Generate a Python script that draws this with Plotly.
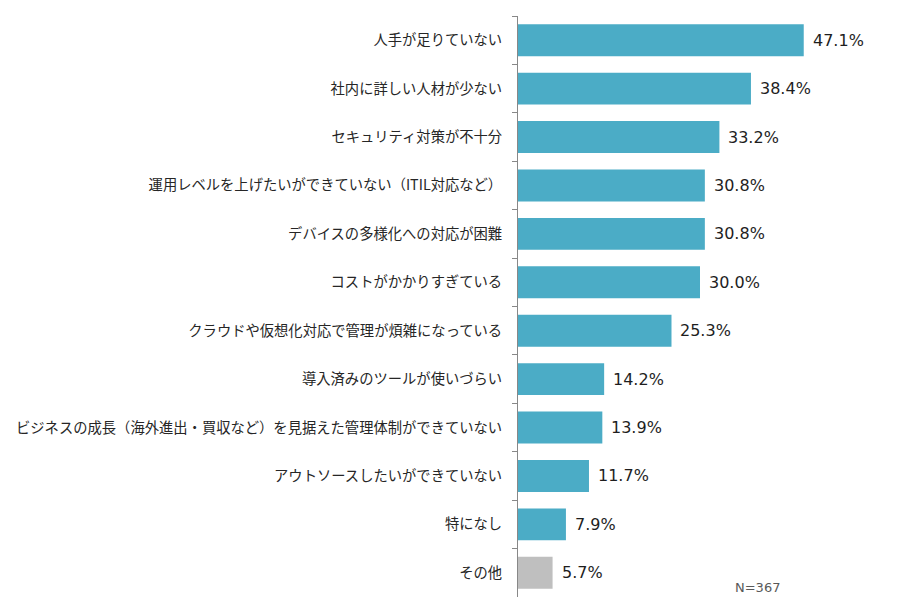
import plotly.graph_objects as go

categories = [
    "人手が足りていない",
    "社内に詳しい人材が少ない",
    "セキュリティ対策が不十分",
    "運用レベルを上げたいができていない（ITIL対応など）",
    "デバイスの多様化への対応が困難",
    "コストがかかりすぎている",
    "クラウドや仮想化対応で管理が煩雑になっている",
    "導入済みのツールが使いづらい",
    "ビジネスの成長（海外進出・買収など）を見据えた管理体制ができていない",
    "アウトソースしたいができていない",
    "特になし",
    "その他",
]
values = [47.1, 38.4, 33.2, 30.8, 30.8, 30.0, 25.3, 14.2, 13.9, 11.7, 7.9, 5.7]
bar_colors = ["#4BACC6"] * 11 + ["#BFBFBF"]
sample_note = "N=367"

jp_font = "Noto Sans CJK JP, sans-serif"
num_font = "DejaVu Sans, Verdana, sans-serif"

fig = go.Figure(go.Bar(
    x=values,
    y=categories,
    orientation="h",
    marker=dict(color=bar_colors, line=dict(width=0)),
    hoverinfo="x+y",
))

# value labels next to each bar
for cat, val in zip(categories, values):
    fig.add_annotation(x=val, y=cat, text=f"{val:.1f}%", showarrow=False,
                       xanchor="left", xshift=7,
                       font=dict(size=16, color="#1e1e1e", family=num_font))

fig.add_annotation(x=1, y=0, xref="paper", yref="paper", text=sample_note,
                   showarrow=False, xanchor="right", yanchor="bottom",
                   xshift=-100, yshift=0,
                   font=dict(size=13, color="#595959", family=num_font))

# page body has an 8px margin, so margins are offset by that
fig.update_layout(
    width=898,
    height=609,
    margin=dict(l=510, r=24, t=8, b=20),
    paper_bgcolor="white",
    plot_bgcolor="white",
    bargap=0.34,
    showlegend=False,
    font=dict(family=jp_font, color="#262626"),
    xaxis=dict(range=[0, 60], visible=False),
    yaxis=dict(
        autorange="reversed",
        showline=True, linecolor="#888888", linewidth=1,
        ticks="outside", tickson="boundaries", ticklen=5, tickcolor="#888888",
        ticklabelstandoff=12,
        tickfont=dict(size=14.3, color="#262626"),
        showgrid=False,
    ),
)

fig.write_html("out.html")
